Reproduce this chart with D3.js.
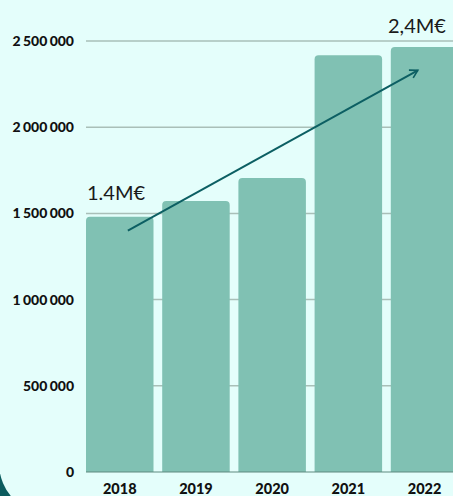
<!DOCTYPE html>
<html>
<head>
<meta charset="utf-8">
<script src="https://d3js.org/d3.v7.min.js"></script>
<style>
  html, body { margin: 0; padding: 0; background: #0b5c5e; overflow: hidden; }
  svg { display: block; }
</style>
</head>
<body>
<svg id="chart" width="453" height="496"></svg>
<script>
// chart values
var years = ["2018", "2019", "2020", "2021", "2022"];
var revenue = [1481000, 1572000, 1705000, 2417000, 2465000];
var yTicks = [0, 500000, 1000000, 1500000, 2000000, 2500000];
var notes = ["1.4M€", "2,4M€"];
var trend = [1400000, 2330000];

var W = 453, H = 496;
var svg = d3.select("#chart");

// light card with a rounded corner, dark frame behind
svg.append("rect")
    .attr("x", -1).attr("y", -42)
    .attr("width", 600).attr("height", 557)
    .attr("rx", 52).attr("ry", 52)
    .attr("fill", "#e4fefb");

var x = d3.scaleBand().domain(years).range([86, 458.3]).paddingInner(0.114).paddingOuter(0);
var y = d3.scaleLinear().domain([0, 2500000]).range([472, 41]);

var fmt = d3.formatLocale({decimal: ".", thousands: " ", grouping: [3], currency: ["", "€"]}).format(",");

// gridlines
svg.append("g").selectAll("line")
    .data(yTicks.slice(1))
  .enter().append("line")
    .attr("x1", 86).attr("x2", W)
    .attr("y1", function(d) { return y(d); })
    .attr("y2", function(d) { return y(d); })
    .attr("stroke", "#a9bfb8").attr("stroke-width", 1.5);

// y labels
svg.append("g").selectAll("text")
    .data(yTicks)
  .enter().append("text")
    .attr("x", 74)
    .attr("y", function(d) { return y(d); })
    .attr("dy", "0.36em")
    .attr("text-anchor", "end")
    .style("font", "900 14px Lato")
    .style("word-spacing", "-1px")
    .attr("fill", "#111")
    .text(function(d) { return fmt(d); });

// bars, top corners rounded
var r = 4;
svg.append("g").selectAll("path")
    .data(revenue)
  .enter().append("path")
    .attr("fill", "#80c1b3")
    .attr("d", function(d, i) {
      var x0 = x(years[i]), x1 = x0 + x.bandwidth(), y0 = y(d), yb = y(0);
      return "M" + x0 + "," + yb + "V" + (y0 + r) + "Q" + x0 + "," + y0 + " " + (x0 + r) + "," + y0 +
             "H" + (x1 - r) + "Q" + x1 + "," + y0 + " " + x1 + "," + (y0 + r) + "V" + yb + "Z";
    });

// baseline
svg.append("line")
    .attr("x1", 86).attr("x2", W)
    .attr("y1", y(0)).attr("y2", y(0))
    .attr("stroke", "#5e8a80").attr("stroke-width", 1.2);

// x labels
svg.append("g").selectAll("text")
    .data(years)
  .enter().append("text")
    .attr("x", function(d) { return x(d) + x.bandwidth() / 2; })
    .attr("y", 494)
    .attr("text-anchor", "middle")
    .style("font", "900 14.5px Lato")
    .attr("fill", "#111")
    .text(function(d) { return d; });

// trend arrow
svg.append("defs").append("marker")
    .attr("id", "head")
    .attr("viewBox", "0 0 10 10")
    .attr("refX", 8).attr("refY", 5)
    .attr("markerWidth", 5.5).attr("markerHeight", 5.5)
    .attr("orient", "auto")
  .append("path")
    .attr("d", "M1,1L8,5L1,9")
    .attr("fill", "none")
    .attr("stroke", "#0c5f63")
    .attr("stroke-width", 1.5);

svg.append("line")
    .attr("x1", x("2018") + x.bandwidth() * 0.62)
    .attr("y1", y(trend[0]))
    .attr("x2", x("2022") + x.bandwidth() * 0.4)
    .attr("y2", y(trend[1]))
    .attr("stroke", "#0c5f63").attr("stroke-width", 2)
    .attr("marker-end", "url(#head)");

// annotations
svg.append("text")
    .attr("x", x("2018") + 1).attr("y", 200)
    .style("font", "400 20px Lato")
    .attr("fill", "#1a1a1a")
    .text(notes[0]);

svg.append("text")
    .attr("x", 388).attr("y", 33)
    .style("font", "400 20px Lato")
    .attr("fill", "#1a1a1a")
    .text(notes[1]);
</script>
</body>
</html>
